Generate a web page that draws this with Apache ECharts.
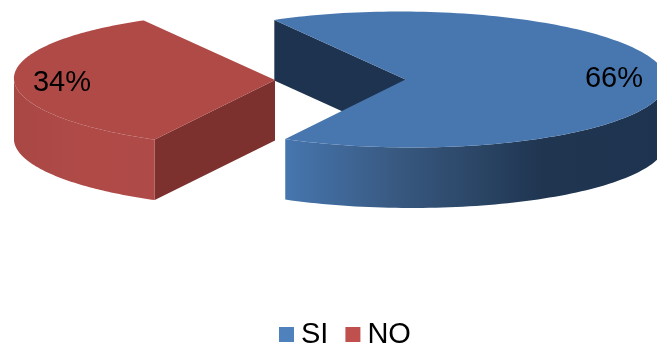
<!DOCTYPE html>
<html>
<head>
<meta charset="utf-8">
<style>html,body{margin:0;padding:0;background:#fff;overflow:hidden}#c{width:657px;height:343px}</style>
<script src="https://cdn.jsdelivr.net/npm/echarts@6/dist/echarts.min.js"></script>
</head>
<body>
<div id="c"></div>
<script>
const categories = ['SI', 'NO'];
const values = [66, 34];
const legendColors = ['#4f81bd', '#c0504d'];

const START_DEG = 241.2;      // where SI begins, in ellipse parameter degrees (y down)
const RX = 261, RY = 68, DEPTH = 60.5, SHEAR = 6.25;
const centers = [[405.5, 79.5], [275, 80]];
const labelAnchors = [[614, 79], [62, 83]];
const FONT = '"Liberation Sans", Arial, sans-serif';
const palette = [
  { top: '#4877b0', cut: '#1e334f',
    wall: [[0, '#4676af'], [0.3, '#38587f'], [0.68, '#1f3550'], [1, '#1e334f']] },
  { top: '#af4a47', cut: '#7c312f',
    wall: [[0, '#a84744'], [0.2, '#ac4946'], [0.5, '#af4a47'], [1, '#ae4a47']] }
];

const total = values.reduce((a, b) => a + b, 0);
const chart = echarts.init(document.getElementById('c'), null, { renderer: 'canvas' });

function pt(c, t, dy) {
  return [c[0] + RX * Math.cos(t) + SHEAR * Math.sin(t), c[1] + RY * Math.sin(t) + (dy || 0)];
}

function sliceRange(i) {
  let s = START_DEG;
  for (let k = 0; k < i; k++) s += values[k] / total * 360;
  return [s * Math.PI / 180, (s + values[i] / total * 360) * Math.PI / 180];
}

function makeRender(i) {
  return function (params, api) {
    const v = api.value(0);
    const c = centers[i];
    const [a0, a1] = sliceRange(i);
    const col = palette[i];
    const N = 160;
    const arc = [];
    for (let k = 0; k <= N; k++) arc.push(a0 + (a1 - a0) * k / N);

    const children = [];

    // the straight cut face that looks toward the viewer
    const p = pt(c, a0);
    children.push({
      type: 'polygon',
      shape: { points: [p, c, [c[0], c[1] + DEPTH], [p[0], p[1] + DEPTH]] },
      style: { fill: col.cut }
    });

    // outer wall: only the part of the rim on the viewer's side
    const front = arc.filter(t => Math.sin(t) >= 0);
    const upper = front.map(t => pt(c, t));
    const lower = front.map(t => pt(c, t, DEPTH)).reverse();
    children.push({
      type: 'polygon',
      shape: { points: upper.concat(lower) },
      style: {
        fill: new echarts.graphic.LinearGradient(0, 0, 1, 0,
          col.wall.map(s => ({ offset: s[0], color: s[1] })))
      }
    });

    // top face
    children.push({
      type: 'polygon',
      shape: { points: [c].concat(arc.map(t => pt(c, t))) },
      style: { fill: col.top }
    });

    // value label
    children.push({
      type: 'text',
      style: {
        x: labelAnchors[i][0], y: labelAnchors[i][1],
        text: v + '%', fill: '#000',
        font: '29px ' + FONT, align: 'center', verticalAlign: 'middle'
      }
    });

    return { type: 'group', children };
  };
}

chart.setOption({
  animation: false,
  backgroundColor: '#fff',
  legend: {
    data: categories,
    top: 320,
    left: 279,
    icon: 'rect',
    itemWidth: 15,
    itemHeight: 15,
    itemGap: 17,
    padding: 0,
    selectedMode: false,
    textStyle: { fontFamily: FONT, fontSize: 29, color: '#000', padding: [0, 0, 0, 2] }
  },
  series: categories.map((name, i) => ({
    type: 'custom',
    name,
    coordinateSystem: 'none',
    silent: true,
    clip: false,
    itemStyle: { color: legendColors[i] },
    data: [[values[i]]],
    renderItem: makeRender(i)
  }))
});
</script>
</body>
</html>
